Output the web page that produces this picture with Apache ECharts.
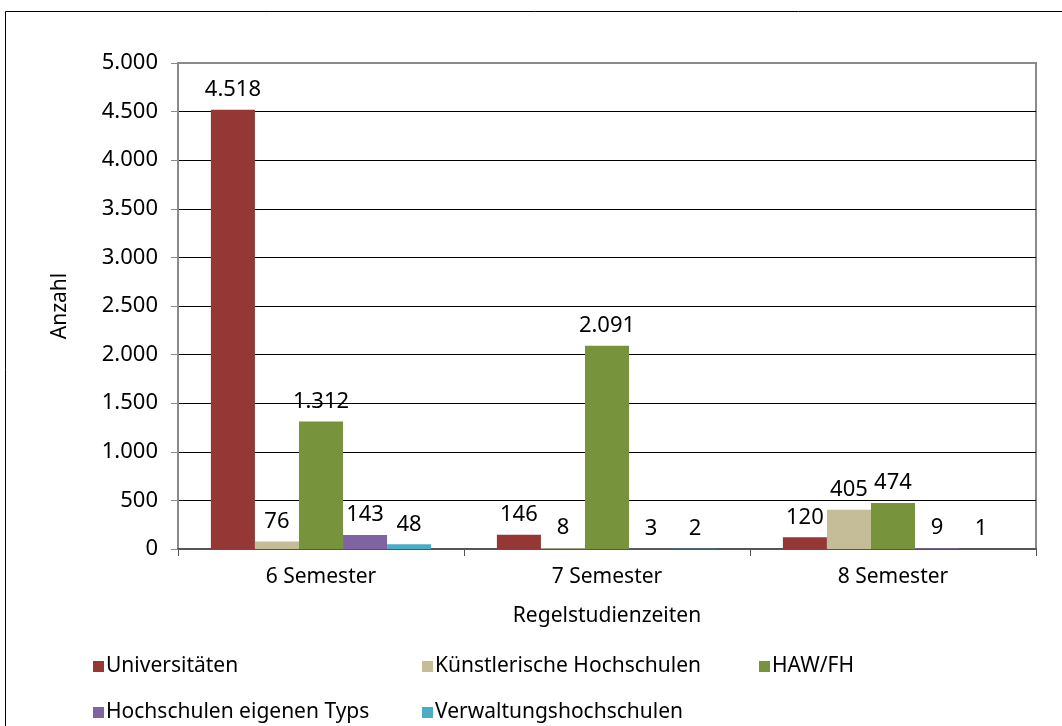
<!DOCTYPE html>
<html>
<head>
<meta charset="utf-8">
<script src="https://cdn.jsdelivr.net/npm/echarts@6/dist/echarts.min.js"></script>
<style>
  html, body { margin: 0; padding: 0; background: #fff; }
  #chart { width: 1062px; height: 726px; }
</style>
</head>
<body>
<div id="chart"></div>
<script>
var categories = ['6 Semester', '7 Semester', '8 Semester'];
var seriesNames = ['Universitäten', 'Künstlerische Hochschulen', 'HAW/FH', 'Hochschulen eigenen Typs', 'Verwaltungshochschulen'];
var universitaeten = [4518, 146, 120];
var kuenstlerisch = [76, 8, 405];
var hawFh = [1312, 2091, 474];
var eigenenTyps = [143, 3, 9];
var verwaltung = [48, 2, 1];
var colors = ['#953735', '#C4BD97', '#77933C', '#8064A2', '#4BACC6'];

var allValues = [universitaeten, kuenstlerisch, hawFh, eigenenTyps, verwaltung];
var FONT = 'Noto Sans';
var TXT = 21;   // text size
var NUM = 22;   // number size

// German thousands separator
function fmt(v) {
  return String(v).replace(/\B(?=(\d{3})+(?!\d))/g, '.');
}

var myChart = echarts.init(document.getElementById('chart'));

var series = seriesNames.map(function (name, i) {
  return {
    name: name,
    type: 'bar',
    data: allValues[i],
    barGap: '0%',
    barCategoryGap: '23%',
    itemStyle: { color: colors[i] },
    label: {
      show: true,
      position: 'top',
      distance: 9,
      color: '#000',
      fontFamily: FONT,
      fontSize: NUM,
      formatter: function (p) { return fmt(p.value); }
    }
  };
});

// legend placed item by item, like the two-row layout in the picture
var legendPos = [[88, 651], [417, 651], [754, 651], [88, 697], [417, 697]];
var legends = seriesNames.map(function (name, i) {
  return {
    data: [name],
    left: legendPos[i][0],
    top: legendPos[i][1],
    itemWidth: 11,
    itemHeight: 11,
    itemGap: 0,
    icon: 'rect',
    textStyle: { fontFamily: FONT, fontSize: TXT, color: '#000', padding: [0, 0, 0, -3] }
  };
});

var splitColors = [];
for (var k = 0; k <= 10; k++) splitColors.push(k === 10 || k === 0 ? '#8a8a8a' : '#000');

myChart.setOption({
  animation: false,
  backgroundColor: '#fff',
  graphic: [{
    type: 'rect',
    shape: { x: 5.5, y: 11.5, width: 1100, height: 800 },
    style: { fill: 'none', stroke: '#000', lineWidth: 1 },
    silent: true
  }],
  legend: legends,
  grid: {
    left: 178, right: 26, top: 63, bottom: 177,
    show: true,
    borderColor: '#8a8a8a',
    borderWidth: 2,
    backgroundColor: 'transparent'
  },
  xAxis: {
    type: 'category',
    data: categories,
    name: 'Regelstudienzeiten',
    nameLocation: 'middle',
    nameGap: 57,
    nameTextStyle: { fontFamily: FONT, fontSize: TXT, color: '#000' },
    axisLine: { lineStyle: { color: '#555', width: 2 } },
    axisTick: { show: true, length: 7, lineStyle: { color: '#555' } },
    axisLabel: { margin: 18, fontFamily: FONT, fontSize: TXT, color: '#000' }
  },
  yAxis: {
    type: 'value',
    min: 0,
    max: 5000,
    interval: 500,
    name: 'Anzahl',
    nameLocation: 'middle',
    nameGap: 107,
    nameRotate: 90,
    nameTextStyle: { fontFamily: FONT, fontSize: TXT, color: '#000' },
    axisLine: { show: true, lineStyle: { color: '#8a8a8a', width: 2 } },
    axisTick: { show: true, length: 7, lineStyle: { color: '#8a8a8a' } },
    axisLabel: { margin: 20, fontFamily: FONT, fontSize: NUM, color: '#000', formatter: fmt },
    splitLine: { show: true, lineStyle: { color: splitColors, width: 1 } }
  },
  series: series
});
</script>
</body>
</html>
